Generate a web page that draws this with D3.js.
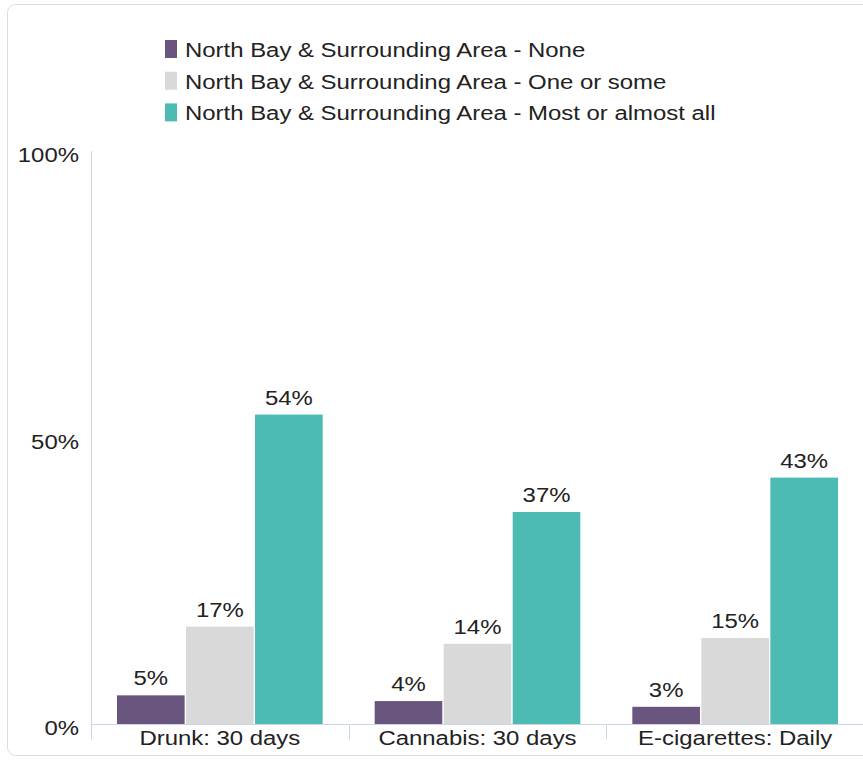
<!DOCTYPE html>
<html>
<head>
<meta charset="utf-8">
<script src="https://cdn.jsdelivr.net/npm/d3@7"></script>
<style>
  body { margin: 0; background: #fff; }
  text { font-family: "Liberation Sans", Arial, sans-serif; fill: #222; font-size: 21px; }
</style>
</head>
<body>
<svg id="chart" width="863" height="762"></svg>
<script>
var categories = ["Drunk: 30 days", "Cannabis: 30 days", "E-cigarettes: Daily"];
var seriesNames = [
  "North Bay & Surrounding Area - None",
  "North Bay & Surrounding Area - One or some",
  "North Bay & Surrounding Area - Most or almost all"
];
var seriesColors = ["#6a557e", "#d9d9d9", "#4bbbb4"];
var noneValues = [5, 4, 3];
var someValues = [17, 14, 15];
var mostValues = [54, 37, 43];
var yTicks = [0, 50, 100];

var seriesValues = [noneValues, someValues, mostValues];

var width = 863, height = 762;
var plotLeft = 91, plotRight = 864, plotTop = 151, plotBottom = 724;
var stretch = 1.14; // text in the reference is a little wider than Arial

var svg = d3.select("#chart");

// adds a horizontally stretched text at (x, y)
function label(parent, x, y, str, anchor) {
  return parent.append("g")
    .attr("transform", "translate(" + x + "," + y + ") scale(" + stretch + ",1)")
    .append("text")
    .attr("text-anchor", anchor || "start")
    .text(str);
}

// card outline
svg.append("rect")
  .attr("x", 7.5).attr("y", 4.5)
  .attr("width", 900).attr("height", 751)
  .attr("rx", 8)
  .attr("fill", "#fff")
  .attr("stroke", "#dcdcdc");

var x = d3.scaleBand().domain(categories).range([plotLeft, plotRight]);
var inner = d3.scaleBand().domain(d3.range(seriesNames.length))
  .range([26, x.bandwidth() - 26]).paddingInner(0.02);
var y = d3.scaleLinear().domain([0, 100]).range([plotBottom, plotTop]);

// y axis line
svg.append("line")
  .attr("x1", plotLeft + 0.5).attr("x2", plotLeft + 0.5)
  .attr("y1", plotTop).attr("y2", plotBottom)
  .attr("stroke", "#ccd6eb");

// y tick labels
yTicks.forEach(function(t) {
  label(svg, 79, y(t) + 11, t + "%", "end");
});

// bars
var groups = svg.selectAll("g.cat")
  .data(categories)
  .enter().append("g")
  .attr("class", "cat")
  .attr("transform", function(d) { return "translate(" + x(d) + ",0)"; });

groups.each(function(cat, ci) {
  var g = d3.select(this);
  seriesValues.forEach(function(vals, si) {
    var v = vals[ci];
    g.append("rect")
      .attr("x", inner(si))
      .attr("y", y(v))
      .attr("width", inner.bandwidth())
      .attr("height", plotBottom - y(v))
      .attr("fill", seriesColors[si]);
    label(g, inner(si) + inner.bandwidth() / 2, y(v) - 10, v + "%", "middle");
  });
});

// x axis
var xAxis = svg.append("g")
  .attr("transform", "translate(0," + (plotBottom + 0.5) + ")");
xAxis.append("line")
  .attr("x1", plotLeft).attr("x2", width)
  .attr("stroke", "#ccd6eb");
xAxis.selectAll("line.tick")
  .data(categories)
  .enter().append("line")
  .attr("class", "tick")
  .attr("x1", function(d) { return Math.round(x(d)) + 0.5; })
  .attr("x2", function(d) { return Math.round(x(d)) + 0.5; })
  .attr("y1", 0).attr("y2", 15)
  .attr("stroke", "#ccd6eb");
categories.forEach(function(c) {
  label(xAxis, x(c) + x.bandwidth() / 2, 20, c, "middle");
});

// legend
seriesNames.forEach(function(name, i) {
  var row = svg.append("g")
    .attr("transform", "translate(165," + (40 + i * 31.7) + ")");
  row.append("rect")
    .attr("width", 12).attr("height", 18)
    .attr("fill", seriesColors[i]);
  label(row, 20, 17, name, "start");
});
</script>
</body>
</html>
